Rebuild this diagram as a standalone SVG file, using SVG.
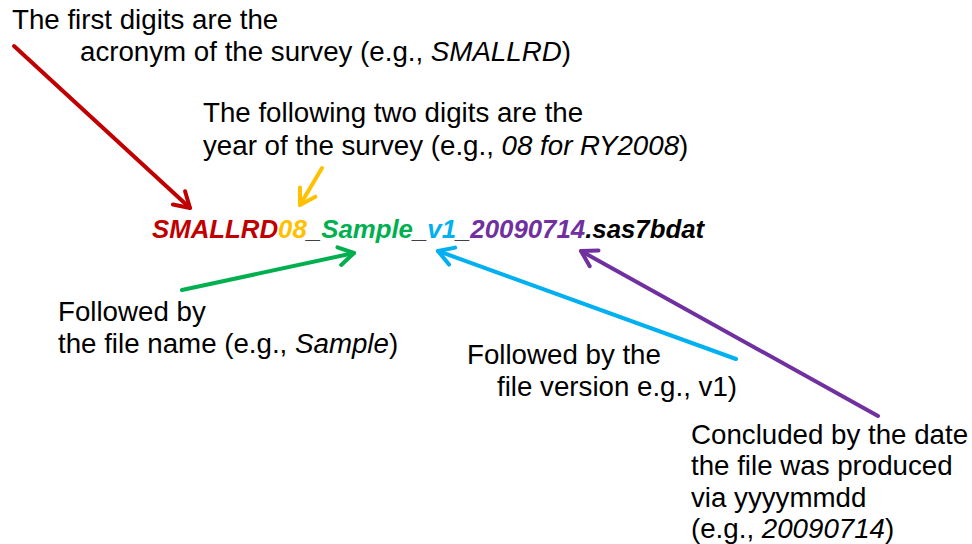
<svg xmlns="http://www.w3.org/2000/svg" width="972" height="544" viewBox="0 0 972 544">
  <style>
    .t { font-family: "Liberation Sans", Arial, sans-serif; font-size: 27.7px; fill: #000; }
    .i { font-style: italic; }
    .fn { font-family: "Liberation Sans", Arial, sans-serif; font-size: 25.8px; font-weight: bold; font-style: italic; }
    .c { fill: none; stroke-width: 4; stroke-linecap: round; }
  </style>
  <defs>
    <marker id="ah-red" markerUnits="userSpaceOnUse" markerWidth="30" markerHeight="30" refX="0" refY="0" viewBox="-20 -15 30 30" orient="auto">
      <path d="M-15,-9 L0,0 L-15,9" fill="none" stroke="#C00000" stroke-width="4" stroke-linecap="round" stroke-linejoin="round"/>
    </marker>
    <marker id="ah-orange" markerUnits="userSpaceOnUse" markerWidth="30" markerHeight="30" refX="0" refY="0" viewBox="-20 -15 30 30" orient="auto">
      <path d="M-15,-9 L0,0 L-15,9" fill="none" stroke="#FFC000" stroke-width="4" stroke-linecap="round" stroke-linejoin="round"/>
    </marker>
    <marker id="ah-green" markerUnits="userSpaceOnUse" markerWidth="30" markerHeight="30" refX="0" refY="0" viewBox="-20 -15 30 30" orient="auto">
      <path d="M-15,-9 L0,0 L-15,9" fill="none" stroke="#00B050" stroke-width="4" stroke-linecap="round" stroke-linejoin="round"/>
    </marker>
    <marker id="ah-blue" markerUnits="userSpaceOnUse" markerWidth="30" markerHeight="30" refX="0" refY="0" viewBox="-20 -15 30 30" orient="auto">
      <path d="M-15,-9 L0,0 L-15,9" fill="none" stroke="#00B0F0" stroke-width="4" stroke-linecap="round" stroke-linejoin="round"/>
    </marker>
    <marker id="ah-purple" markerUnits="userSpaceOnUse" markerWidth="30" markerHeight="30" refX="0" refY="0" viewBox="-20 -15 30 30" orient="auto">
      <path d="M-15,-9 L0,0 L-15,9" fill="none" stroke="#7030A0" stroke-width="4" stroke-linecap="round" stroke-linejoin="round"/>
    </marker>
  </defs>
  <rect width="972" height="544" fill="#fff"/>

  <!-- file name being explained -->
  <g id="filename">
    <text class="fn" x="152" y="238"><tspan fill="#C00000">SMALLRD</tspan><tspan fill="#FFC000">08</tspan><tspan fill="#404040">_</tspan><tspan fill="#00B050">Sample</tspan><tspan fill="#404040">_</tspan><tspan fill="#00B0F0">v1</tspan><tspan fill="#404040">_</tspan><tspan fill="#7030A0">20090714</tspan><tspan fill="#000">.sas7bdat</tspan></text>
  </g>

  <g id="note-acronym">
    <text class="t" x="12" y="29">The first digits are the</text>
    <text class="t" x="80" y="61">acronym of the survey (e.g., <tspan class="i">SMALLRD</tspan>)</text>
  </g>

  <g id="note-year">
    <text class="t" x="203" y="122">The following two digits are the</text>
    <text class="t" x="203" y="155">year of the survey (e.g., <tspan class="i">08 for RY2008</tspan>)</text>
  </g>

  <g id="note-name">
    <text class="t" x="58" y="321">Followed by</text>
    <text class="t" x="58" y="353">the file name (e.g., <tspan class="i">Sample</tspan>)</text>
  </g>

  <g id="note-version">
    <text class="t" x="467" y="364">Followed by the</text>
    <text class="t" x="497" y="396">file version e.g., v1)</text>
  </g>

  <g id="note-date">
    <text class="t" x="691" y="444">Concluded by the date</text>
    <text class="t" x="691" y="475">the file was produced</text>
    <text class="t" x="691" y="507">via yyyymmdd</text>
    <text class="t" x="691" y="538">(e.g., <tspan class="i">20090714</tspan>)</text>
  </g>

  <!-- pointers from each note to its part of the name -->
  <g id="connectors">
    <line class="c" x1="14" y1="46" x2="190" y2="208" stroke="#C00000" marker-end="url(#ah-red)"/>
    <line class="c" x1="322" y1="168" x2="300" y2="205" stroke="#FFC000" marker-end="url(#ah-orange)"/>
    <line class="c" x1="182" y1="290" x2="354" y2="253" stroke="#00B050" marker-end="url(#ah-green)"/>
    <line class="c" x1="736" y1="359" x2="438" y2="251" stroke="#00B0F0" marker-end="url(#ah-blue)"/>
    <line class="c" x1="878" y1="416" x2="581" y2="251" stroke="#7030A0" marker-end="url(#ah-purple)"/>
  </g>
</svg>
